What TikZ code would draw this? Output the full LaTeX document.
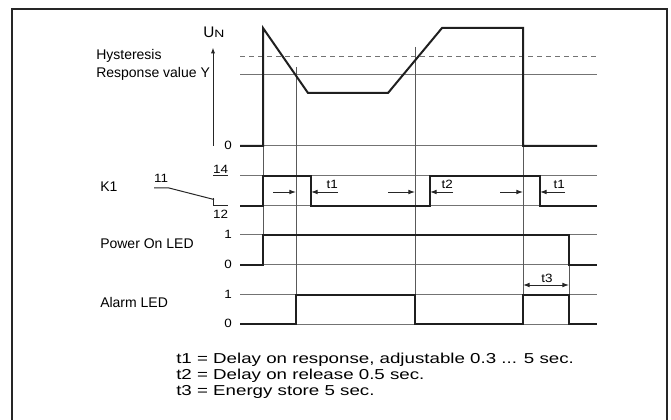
\documentclass[tikz,border=0pt]{standalone}
\usepackage{fontspec}
\setmainfont{Liberation Sans}
\newfontfamily\widefont[FakeStretch=1.3]{Liberation Sans}
\newfontfamily\digfont[FakeStretch=1.12]{Liberation Sans}
\usetikzlibrary{arrows.meta}
\begin{document}
\begin{tikzpicture}[x=0.75pt,y=-0.75pt,
  sig/.style={line width=1.5pt, black!88, line join=miter},
  lvl/.style={line width=0.75pt, black!55},
  vl/.style={line width=0.75pt, black!65},
  lab/.style={inner sep=0pt, anchor=base west, font=\fontsize{10.5}{12}\selectfont},
  dig/.style={inner sep=0pt, font=\digfont\fontsize{9}{10}\selectfont},
  leg/.style={inner sep=0pt, anchor=base west, font=\widefont\fontsize{10.8}{12}\selectfont},
  tarr/.style={line width=0.7pt, black!85, -{Latex[length=5pt,width=3.6pt]}},
  tdbl/.style={line width=0.7pt, black!85, {Latex[length=5pt,width=3.6pt]}-{Latex[length=5pt,width=3.6pt]}},
  thinblk/.style={line width=0.75pt, black!85},
]
\useasboundingbox (0,0) rectangle (671,420);
% frame
\draw[line width=1.1pt, black!85] (12,422) -- (12,9) -- (667,9) -- (667,422);

% U_N axis
\draw[line width=0.75pt, black!85, -{Latex[length=4.5pt,width=3.2pt]}] (213,146) -- (213,47.5);
\node[inner sep=0pt, anchor=base west] (un) at (203,38) {\fontsize{11.5}{12}\selectfont U\widefont\fontsize{8}{9}\selectfont N};
\node[lab] (hyst) at (96,60) {Hysteresis};
\node[lab] (resp) at (96,78) {Response value Y};

% level lines
\draw[lvl, dash pattern=on 3.75pt off 3pt] (240,57) -- (597,57);
\foreach \yy in {75,146,176,206,235,265,295,324}
  \draw[lvl] (240,\yy) -- (597,\yy);

% vertical guide lines
\draw[vl] (263,146) -- (263,235);
\draw[vl] (296,67) -- (296,324);
\draw[vl] (415,47) -- (415,324);
\draw[vl] (523,146) -- (523,324);
\draw[vl] (569,265) -- (569,295);

% signals
\draw[sig] (240,146) -- (263,146) -- (263,28) -- (308,93) -- (388,93) -- (442,28) -- (523,28) -- (523,146) -- (597,146);
\draw[sig] (240,206) -- (263,206) -- (263,176) -- (311,176) -- (311,206) -- (430,206) -- (430,176) -- (540,176) -- (540,206) -- (597,206);
\draw[sig] (240,265) -- (263,265) -- (263,235) -- (569,235) -- (569,265) -- (597,265);
\draw[sig] (240,324) -- (296,324) -- (296,295) -- (415,295) -- (415,324) -- (523,324) -- (523,295) -- (569,295) -- (569,324) -- (597,324);

% level labels
\node[dig, anchor=base east] (z0) at (232,150) {0};
\node[dig, anchor=base east] (p1) at (232,239) {1};
\node[dig, anchor=base east] (p0) at (232,269) {0};
\node[dig, anchor=base east] (a1) at (232,298.5) {1};
\node[dig, anchor=base east] (a0) at (232,328) {0};

% K1 contact symbol
\node[lab] (k1) at (100,192) {K1};
\node[dig, anchor=base] (n11) at (161,183) {11};
\node[dig, anchor=base] (n14) at (220.5,173.5) {14};
\node[dig, anchor=base] (n12) at (220.5,219) {12};
\draw[thinblk] (154,188) -- (169,188) -- (214,199.5);
\draw[thinblk] (213,198) -- (213,206) -- (228,206);
\draw[thinblk] (213,176) -- (228,176);

% delay arrows
\draw[tarr] (273,192) -- (296,192);
\draw[tarr] (338,192) -- (311,192);
\node[dig, anchor=base east] (lt1a) at (338,189) {t1};
\draw[tarr] (388,192) -- (415,192);
\draw[tarr] (453,192) -- (430,192);
\node[dig, anchor=base east] (lt2) at (453,189) {t2};
\draw[tarr] (500,192) -- (523,192);
\draw[tarr] (565,192) -- (540,192);
\node[dig, anchor=base east] (lt1b) at (565,189) {t1};
\draw[tdbl] (523,285) -- (569,285);
\node[dig, anchor=base] (lt3) at (547,282) {t3};

% row labels
\node[lab] (pwr) at (100,249) {Power On LED};
\node[lab] (alm) at (100,307) {Alarm LED};

% legend
\node[leg] (leg1) at (176,363) {t1 = Delay on response, adjustable 0.3 ... 5 sec.};
\node[leg] (leg2) at (176,379) {t2 = Delay on release 0.5 sec.};
\node[leg] (leg3) at (176,395) {t3 = Energy store 5 sec.};
\end{tikzpicture}
\end{document}
